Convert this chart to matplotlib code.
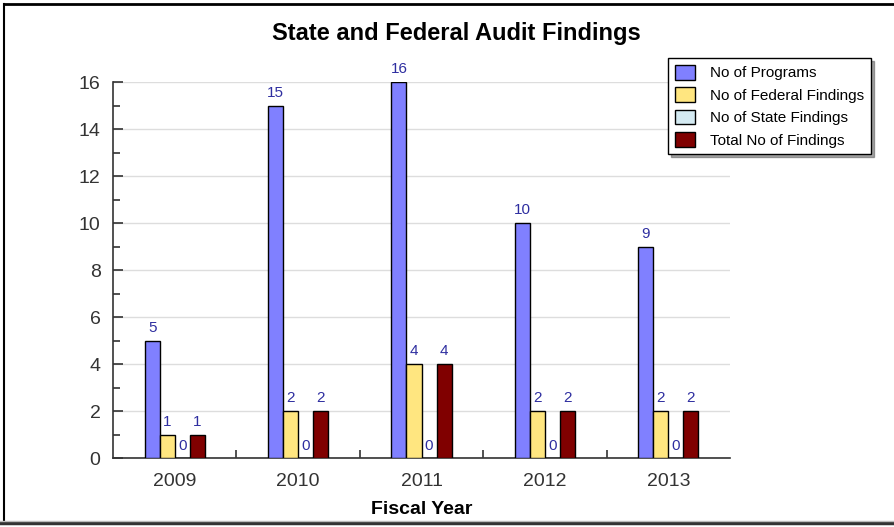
import matplotlib
matplotlib.use("Agg")
import matplotlib.pyplot as plt
import numpy as np
from matplotlib.lines import Line2D

years = ["2009", "2010", "2011", "2012", "2013"]
programs = [5, 15, 16, 10, 9]
federal = [1, 2, 4, 2, 2]
state = [0, 0, 0, 0, 0]
total = [1, 2, 4, 2, 2]
series_names = ["No of Programs", "No of Federal Findings", "No of State Findings", "Total No of Findings"]
colors = ["#8080FF", "#FFE680", "#D4EAF2", "#800000"]

plt.rcParams['font.family'] = ['Liberation Sans', 'DejaVu Sans']

fig = plt.figure(figsize=(8.94, 5.27), dpi=100)
ax = fig.add_axes([0.1264, 0.1309, 0.8166 - 0.1264, 0.8444 - 0.1309])

series = [programs, federal, state, total]
x = np.arange(len(years))
w = 0.122
label_color = "#2E2EA0"
for i, (vals, c, name) in enumerate(zip(series, colors, series_names)):
    pos = x + (i - 1.5) * w
    ax.bar(pos, vals, width=w, color=c, edgecolor="black", linewidth=1.0, label=name, zorder=3)
    for px, v in zip(pos, vals):
        if v == 0:
            ax.text(px, 0.2, str(v), ha="center", va="bottom", fontsize=11, color=label_color, zorder=4)
        else:
            ax.text(px, v + 0.25, str(v), ha="center", va="bottom", fontsize=11, color=label_color, zorder=4)

ax.set_xlim(-0.5, len(years) - 0.5)
ax.set_ylim(0, 16)
ax.set_yticks(np.arange(0, 17, 2))
ax.set_yticks(np.arange(1, 16, 2), minor=True)
ax.set_xticks(x)
ax.set_xticklabels(years)
ax.set_xticks(np.arange(0.5, len(years) - 0.5, 1), minor=True)
ax.tick_params(axis="x", which="major", length=0, labelsize=14, pad=11, colors="#333333")
ax.tick_params(axis="x", which="minor", direction="in", length=6, width=1.2, color="#333333")
ax.tick_params(axis="y", which="major", direction="in", length=7, width=1.2, labelsize=14, pad=9, colors="#333333")
ax.tick_params(axis="y", which="minor", direction="in", length=5, width=1.2, color="#333333")
ax.grid(axis="y", which="major", color="#DDDDDD", linewidth=1.0, zorder=0)
ax.set_axisbelow(True)
for s in ["top", "right"]:
    ax.spines[s].set_visible(False)
for s in ["left", "bottom"]:
    ax.spines[s].set_linewidth(1.2)
    ax.spines[s].set_color("#333333")

ax.set_xlabel("Fiscal Year", fontsize=14, fontweight="bold", labelpad=8)
fig.text(0.511, 0.937, "State and Federal Audit Findings", ha="center", va="center",
         fontsize=17, fontweight="bold")

leg = fig.legend(loc="upper left", bbox_to_anchor=(668 / 894, 1 - 58 / 527), fontsize=11,
                 frameon=True, fancybox=False, shadow=True, handlelength=1.3, handleheight=1.1,
                 borderpad=0.45, labelspacing=0.45, handletextpad=1.0, borderaxespad=0)
leg.get_frame().set_edgecolor("black")
leg.get_frame().set_linewidth(1.0)

# figure border
fig.add_artist(Line2D([4 / 894, 4 / 894], [4 / 527, 1 - 4 / 527], transform=fig.transFigure, color="black", lw=1.5))
fig.add_artist(Line2D([4 / 894, 1], [1 - 4 / 527, 1 - 4 / 527], transform=fig.transFigure, color="black", lw=2))
fig.add_artist(Line2D([0, 1], [4 / 527, 4 / 527], transform=fig.transFigure, color="#333333", lw=2.5))
fig.add_artist(Line2D([0, 1], [6.5 / 527, 6.5 / 527], transform=fig.transFigure, color="#BBBBBB", lw=1))

fig.savefig("out.png", dpi=100)
